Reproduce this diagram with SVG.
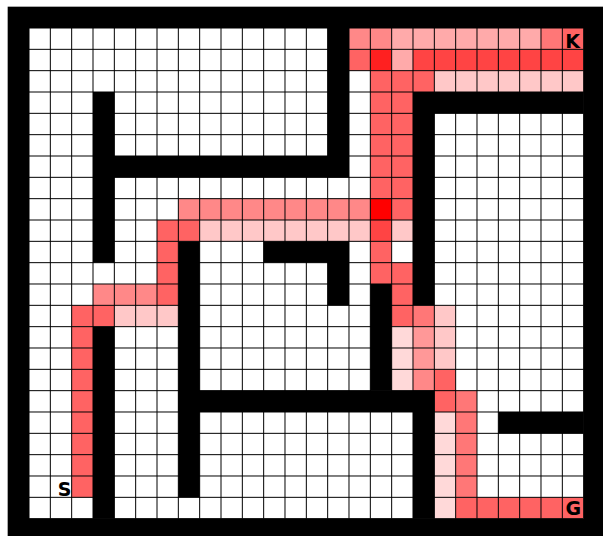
<svg xmlns="http://www.w3.org/2000/svg" width="603" height="536" viewBox="0 0 603 536">
<style>
.w{fill:#000}
.p1{fill:#ffd9d9}.p2{fill:#ffc8c8}.p3{fill:#ffaaaa}.p4{fill:#ff8888}.p4b{fill:#ff9898}.p5{fill:#ff7777}
.r{fill:#ff6363}.r2{fill:#ff4444}.r3{fill:#ff2020}.r4{fill:#ff0000}
.grid{fill:none;stroke:#000;stroke-width:1;vector-effect:non-scaling-stroke}
.lbl{font-family:"DejaVu Sans",sans-serif;font-weight:bold;font-size:19px;fill:#000;text-anchor:middle}
</style>
<rect x="0" y="0" width="603" height="536" fill="#fff"/>
<g id="maze" transform="translate(7.667,6.667) scale(21.3333)">
<rect x="0" y="0" width="28" height="25" class="w"/>
<rect x="1" y="1" width="26" height="23" fill="#fff"/>
<g id="path-cells">
<rect x="16" y="1" width="2" height="1" class="p4"/>
<rect x="18" y="1" width="7" height="1" class="p3"/>
<rect x="25" y="1" width="1" height="1" class="p5"/>
<rect x="26" y="1" width="1" height="1" class="r"/>
<rect x="16" y="2" width="1" height="1" class="r"/>
<rect x="17" y="2" width="1" height="1" class="r3"/>
<rect x="18" y="2" width="1" height="1" class="p3"/>
<rect x="19" y="2" width="8" height="1" class="r2"/>
<rect x="17" y="3" width="3" height="1" class="r"/>
<rect x="20" y="3" width="7" height="1" class="p2"/>
<rect x="17" y="4" width="2" height="5" class="r"/>
<rect x="8" y="9" width="9" height="1" class="p4"/>
<rect x="17" y="9" width="1" height="1" class="r4"/>
<rect x="18" y="9" width="1" height="1" class="r"/>
<rect x="7" y="10" width="2" height="1" class="r"/>
<rect x="9" y="10" width="8" height="1" class="p2"/>
<rect x="17" y="10" width="1" height="1" class="r2"/>
<rect x="18" y="10" width="1" height="1" class="p2"/>
<rect x="7" y="11" width="1" height="3" class="r"/>
<rect x="17" y="11" width="1" height="2" class="r"/>
<rect x="18" y="12" width="1" height="3" class="r"/>
<rect x="4" y="13" width="3" height="1" class="p4"/>
<rect x="3" y="14" width="2" height="1" class="r"/>
<rect x="5" y="14" width="3" height="1" class="p2"/>
<rect x="19" y="14" width="1" height="1" class="p5"/>
<rect x="20" y="14" width="1" height="3" class="p2"/>
<rect x="18" y="15" width="1" height="3" class="p1"/>
<rect x="19" y="15" width="1" height="2" class="p4b"/>
<rect x="19" y="17" width="1" height="1" class="p4"/>
<rect x="20" y="17" width="1" height="2" class="r"/>
<rect x="21" y="18" width="1" height="5" class="p5"/>
<rect x="20" y="19" width="1" height="5" class="p1"/>
<rect x="21" y="23" width="6" height="1" class="r"/>
<rect x="3" y="15" width="1" height="8" class="r"/>
</g>
<path class="grid" d="M1 1V24M2 1V24M3 1V24M4 1V24M5 1V24M6 1V24M7 1V24M8 1V24M9 1V24M10 1V24M11 1V24M12 1V24M13 1V24M14 1V24M15 1V24M16 1V24M17 1V24M18 1V24M19 1V24M20 1V24M21 1V24M22 1V24M23 1V24M24 1V24M25 1V24M26 1V24M27 1V24M1 1H27M1 2H27M1 3H27M1 4H27M1 5H27M1 6H27M1 7H27M1 8H27M1 9H27M1 10H27M1 11H27M1 12H27M1 13H27M1 14H27M1 15H27M1 16H27M1 17H27M1 18H27M1 19H27M1 20H27M1 21H27M1 22H27M1 23H27M1 24H27"/>
<g id="walls">
<rect x="4" y="4" width="1" height="8" class="w"/>
<rect x="4" y="7" width="12" height="1" class="w"/>
<rect x="15" y="1" width="1" height="7" class="w"/>
<rect x="19" y="4" width="8" height="1" class="w"/>
<rect x="19" y="4" width="1" height="10" class="w"/>
<rect x="8" y="11" width="1" height="12" class="w"/>
<rect x="12" y="11" width="4" height="1" class="w"/>
<rect x="15" y="11" width="1" height="3" class="w"/>
<rect x="17" y="13" width="1" height="5" class="w"/>
<rect x="8" y="18" width="12" height="1" class="w"/>
<rect x="19" y="18" width="1" height="6" class="w"/>
<rect x="4" y="15" width="1" height="9" class="w"/>
<rect x="23" y="19" width="4" height="1" class="w"/>
</g>
</g>
<g id="labels">
<text class="lbl" x="572.5" y="48">K</text>
<text class="lbl" x="64.5" y="496">S</text>
<text class="lbl" x="573.3" y="515">G</text>
</g>
</svg>
